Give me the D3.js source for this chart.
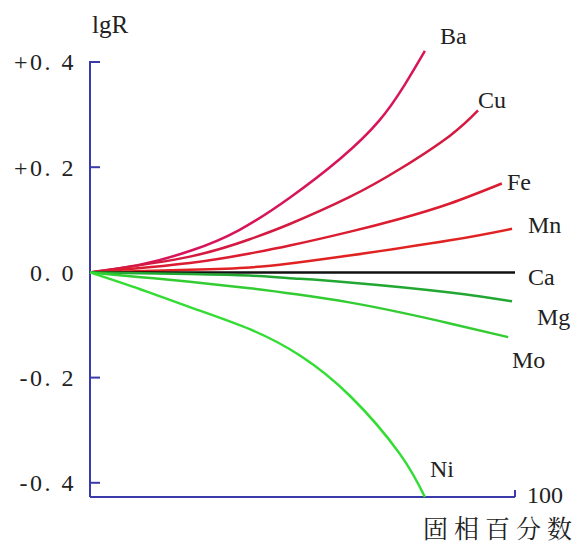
<!DOCTYPE html>
<html>
<head>
<meta charset="utf-8">
<script src="https://cdn.jsdelivr.net/npm/d3@7"></script>
<style>
  body { margin: 0; background: #fff; }
  text { font-family: "Liberation Serif", "DejaVu Serif", serif; fill: #222; }
</style>
</head>
<body>
<div id="chart"></div>
<script>
// percent solid phase on x, lgR on y
const yTicks = [0.4, 0.2, 0, -0.2, -0.4];
const yTickLabels = ["+0. 4", "+0. 2", "0. 0", "-0. 2", "-0. 4"];

const baX = [0, 12, 24, 35, 47, 59, 68, 74, 78.8];
const baY = [0, 0.015, 0.042, 0.080, 0.142, 0.217, 0.288, 0.356, 0.421];
const cuX = [0, 23.5, 37.6, 47, 61, 73, 84.7, 91.3];
const cuY = [0, 0.030, 0.063, 0.092, 0.143, 0.197, 0.260, 0.308];
const feX = [0, 23.5, 37.6, 47, 61, 73, 84.7, 96.9];
const feY = [0, 0.018, 0.036, 0.051, 0.077, 0.102, 0.131, 0.169];
const mnX = [0, 23.5, 37.6, 47, 61, 84.7, 99.3];
const mnY = [0, 0.005, 0.0095, 0.017, 0.032, 0.061, 0.083];
const caX = [0, 100];
const caY = [0, 0];
const mgX = [0, 23.5, 37.6, 47, 61, 84.7, 99.3];
const mgY = [0, -0.003, -0.006, -0.011, -0.019, -0.038, -0.055];
const moX = [0, 12, 23.5, 37.6, 49, 61, 73, 84.7, 98.4];
const moY = [0, -0.009, -0.018, -0.030, -0.042, -0.057, -0.076, -0.097, -0.123];
const niX = [0, 11.8, 23.5, 37.6, 49.4, 61.2, 72.9, 78.8];
const niY = [0, -0.032, -0.066, -0.108, -0.158, -0.235, -0.345, -0.427];

const series = [
  { name: "Ba", xs: baX, ys: baY, color: "#d8145a", lx: 440, ly: 44 },
  { name: "Cu", xs: cuX, ys: cuY, color: "#d41a40", lx: 478, ly: 108 },
  { name: "Fe", xs: feX, ys: feY, color: "#dc1c30", lx: 507, ly: 190 },
  { name: "Mn", xs: mnX, ys: mnY, color: "#e02222", lx: 528, ly: 233 },
  { name: "Ca", xs: caX, ys: caY, color: "#111111", lx: 528, ly: 285 },
  { name: "Mg", xs: mgX, ys: mgY, color: "#22a832", lx: 537, ly: 325 },
  { name: "Mo", xs: moX, ys: moY, color: "#33cc33", lx: 512, ly: 368 },
  { name: "Ni", xs: niX, ys: niY, color: "#33dd33", lx: 430, ly: 477 }
];

const width = 582, height = 550;
const axisColor = "#3a3aaa";

const svg = d3.select("#chart").append("svg")
  .attr("width", width)
  .attr("height", height);

const x = d3.scaleLinear([0, 100], [90, 515]);
const y = d3.scaleLinear([-0.427, 0.4], [497, 62]);

// y axis: line + inward ticks
const yAxis = svg.append("g").attr("transform", `translate(${x(0)},0)`);
yAxis.append("line")
  .attr("y1", y(0.4) - 1).attr("y2", y(-0.427))
  .attr("stroke", axisColor).attr("stroke-width", 2);
yAxis.selectAll(".tick")
  .data(yTicks.filter(d => d !== 0))
  .join("line")
  .attr("class", "tick")
  .attr("x1", 0).attr("x2", 10)
  .attr("y1", d => y(d)).attr("y2", d => y(d))
  .attr("stroke", axisColor).attr("stroke-width", 2);
yAxis.selectAll(".tick-label")
  .data(yTicks)
  .join("text")
  .attr("class", "tick-label")
  .attr("x", -14)
  .attr("y", d => y(d))
  .attr("dy", "0.35em")
  .attr("text-anchor", "end")
  .style("font-size", "24px")
  .style("letter-spacing", "2.5px")
  .text((d, i) => yTickLabels[i]);

// x axis
const xAxis = svg.append("g").attr("transform", `translate(0,${y(-0.427)})`);
xAxis.append("line")
  .attr("x1", x(0)).attr("x2", x(100))
  .attr("stroke", axisColor).attr("stroke-width", 2);
xAxis.append("line")
  .attr("x1", x(100)).attr("x2", x(100))
  .attr("y1", 0).attr("y2", -7)
  .attr("stroke", axisColor).attr("stroke-width", 2);
xAxis.append("text")
  .attr("x", x(100) + 12).attr("y", 6)
  .style("font-size", "24px")
  .text("100");

svg.append("text")
  .attr("x", 92).attr("y", 33)
  .style("font-size", "25px")
  .text("lgR");

svg.append("text")
  .attr("x", 423).attr("y", 538)
  .style("font-family", "'Noto Serif CJK SC', 'Noto Sans CJK SC', sans-serif")
  .style("font-size", "25px")
  .style("letter-spacing", "6px")
  .text("固相百分数");

// curves
const line = d3.line()
  .x(d => x(d[0]))
  .y(d => y(d[1]))
  .curve(d3.curveNatural);

svg.append("g").selectAll("path")
  .data(series)
  .join("path")
  .attr("fill", "none")
  .attr("stroke", d => d.color)
  .attr("stroke-width", 2.5)
  .attr("d", d => line(d.xs.map((v, i) => [v, d.ys[i]])));

svg.append("g").selectAll("text")
  .data(series)
  .join("text")
  .attr("x", d => d.lx)
  .attr("y", d => d.ly)
  .style("font-size", "24px")
  .text(d => d.name);
</script>
</body>
</html>
